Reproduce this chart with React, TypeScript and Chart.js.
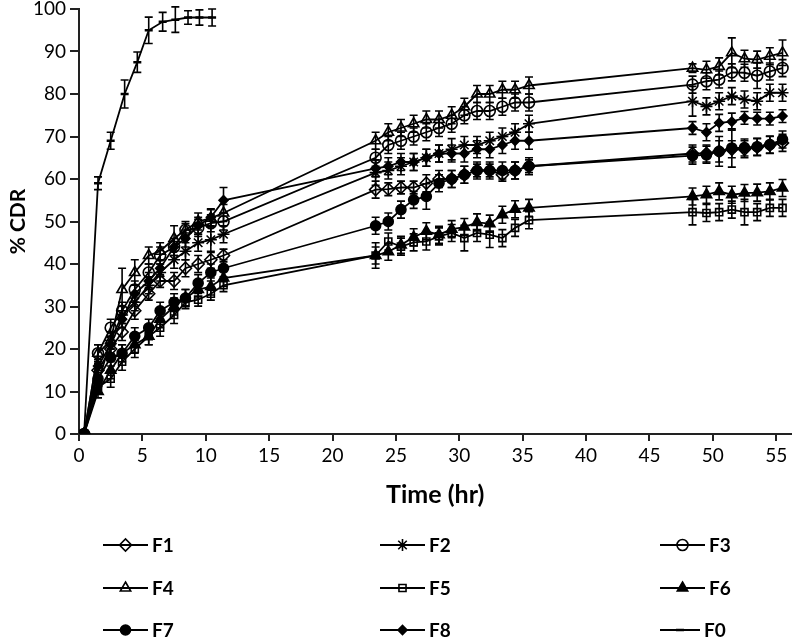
import React, { useEffect, useRef } from 'react';
import { Chart, registerables } from 'chart.js';
import { drawPoint } from 'chart.js/helpers';

Chart.register(...registerables);

const FONT = "Lato, 'Liberation Sans', Arial, sans-serif";

// Sampling times (hr) for F1..F8
const timeHours = [0.4, 1.5, 2.5, 3.4, 4.4, 5.5, 6.4, 7.5, 8.4, 9.4, 10.4, 11.4,
  23.4, 24.4, 25.4, 26.4, 27.4, 28.4, 29.4, 30.4, 31.4, 32.4, 33.4, 34.4, 35.5,
  48.4, 49.5, 50.5, 51.5, 52.5, 53.5, 54.5, 55.5];

const f1Values = [0, 15, 20, 24, 29, 33, 36, 36, 39, 40, 41, 42,
  57.5, 57.6, 58, 58, 59, 60, 60, 61, 62, 62, 61, 62, 63,
  66, 66, 66.5, 67, 67, 67.5, 68, 68.5];
const f1Errors = [0, 1.5, 2, 2, 2, 1.5, 1.5, 2, 2, 2, 2, 1.5,
  2, 1.5, 1.5, 1.5, 2, 2, 2, 2, 1.5, 1.5, 1.5, 2, 1.5,
  2, 2, 2.5, 2, 2, 2, 2, 2];

const f2Values = [0, 12, 22, 28, 31, 35, 38, 41, 43, 45, 45.7, 47,
  61.5, 62, 63, 64, 65, 66, 67, 68, 68, 69, 70, 71, 73,
  78.3, 77.1, 78.3, 79.5, 78.7, 78.3, 80.3, 80.3];
const f2Errors = [0, 1.5, 2, 2, 2, 2, 2, 2, 2, 2, 3, 2,
  3, 2, 2, 2, 2, 2, 2.5, 2, 2, 2, 2, 2, 2,
  3.5, 2, 2, 2, 2, 2, 2, 2];

const f3Values = [0, 19, 25, 29, 34, 38, 42, 44, 48, 48.5, 49.6, 50,
  65, 68, 69, 70, 71, 72, 73, 75, 76, 76, 77, 78, 78,
  82.2, 83, 83.4, 85.1, 85, 84.3, 85.3, 86.1];
const f3Errors = [0, 2, 2, 2, 2, 2, 2, 2, 1.5, 2, 2, 2,
  2, 2, 2, 2, 2, 2, 2, 2, 2, 2, 2, 2, 2,
  2, 2, 2, 2, 2, 3, 2, 2];

const f4Values = [0, 19, 22, 34, 38, 42, 43, 46, 48, 50, 50.8, 52,
  69, 71, 72, 73, 74, 74, 75, 77, 80, 80, 81, 81, 82,
  86.1, 85.7, 86.5, 89.7, 88.3, 88.1, 88.9, 89.7];
const f4Errors = [0, 2, 2, 5, 3, 2, 2, 3, 2, 2, 2, 2,
  2, 2, 2, 2, 2, 2, 2, 2, 2, 2, 2, 2, 2,
  1, 2, 2, 3.5, 2, 2, 2, 3];

const f5Values = [0, 11, 13, 17, 20, 23, 25, 28, 31, 31.6, 33, 35,
  42, 45.3, 44.1, 45.1, 45.3, 46.5, 47.3, 46.1, 47.3, 46.9, 46.1, 48.5, 50.3,
  52.2, 52, 52.2, 52.8, 52.2, 52.2, 53.2, 53.2];
const f5Errors = [0, 1.5, 2, 2, 2, 2, 2, 2, 1.5, 1.5, 1.5, 1.5,
  3, 2, 2, 2, 2, 2, 2, 3, 2, 3, 2, 2, 2,
  3, 2, 2, 2, 3, 2, 2, 2];

const f6Values = [0, 10, 15, 19, 21, 23, 27, 30, 32, 34, 34.7, 36.7,
  42, 42.9, 44.5, 46.3, 47.7, 46.9, 48.2, 48.7, 49.8, 49.5, 51.6, 52.9, 53.2,
  55.9, 56.3, 57.1, 56.3, 56.7, 56.8, 57.1, 57.9];
const f6Errors = [0, 1.5, 2, 2, 2, 2, 2, 2, 2, 2, 2, 2,
  2, 2, 2, 2, 2, 2, 2, 2, 2, 2, 2, 2, 2,
  2, 2, 2, 2, 2, 2, 2, 2];

const f7Values = [0, 13, 18, 19, 23, 25, 29, 31, 32, 35.5, 38, 39,
  49, 50, 52.8, 55.1, 55.9, 59, 60, 61, 62, 62, 62, 62, 63,
  65.5, 65.7, 66.5, 67.3, 67.4, 67.6, 68.1, 69.3];
const f7Errors = [0, 2, 2, 2, 2, 2, 2, 2, 2, 2, 2, 2,
  2, 2, 2, 2, 3, 2, 2, 2, 2, 2, 2, 2, 2,
  2, 2, 3.5, 4.5, 2, 2, 2, 2];

const f8Values = [0, 16, 21, 27, 33, 36, 39, 44, 46, 49, 51, 55,
  62.5, 63, 64, 64, 65, 66, 66, 66, 67, 67, 68, 69, 69,
  72, 71, 73.2, 73.5, 74.4, 74.2, 74.2, 74.8];
const f8Errors = [0, 1.5, 2, 2, 2, 2, 2, 2, 2, 2, 2, 3,
  2, 2, 2, 2, 2, 2, 2, 2, 2, 2, 2, 2, 2,
  1.5, 2, 2, 2, 1.5, 1.5, 1.5, 1.5];

const f0Time = [0.4, 1.5, 2.5, 3.6, 4.6, 5.5, 6.6, 7.6, 8.6, 9.5, 10.5];
const f0Values = [0, 59, 69, 80, 87.5, 95, 97, 97.5, 98, 98, 98];
const f0Errors = [0, 1.5, 2, 3.3, 2.4, 3.1, 2.2, 3, 1.6, 1.8, 2];

const seriesLabels = ['F1', 'F2', 'F3', 'F4', 'F5', 'F6', 'F7', 'F8', 'F0'];

const xTitle = 'Time (hr)';
const yTitle = '% CDR';

export default function App() {
  const ref = useRef<HTMLCanvasElement>(null);

  useEffect(() => {
    const pts = (xs: number[], ys: number[]) => xs.map((x, i) => ({ x, y: ys[i] }));
    const seriesValues = [f1Values, f2Values, f3Values, f4Values, f5Values, f6Values, f7Values, f8Values];
    const seriesErrors = [f1Errors, f2Errors, f3Errors, f4Errors, f5Errors, f6Errors, f7Errors, f8Errors];
    const open = 'rgba(255,255,255,0)';
    const markerStyles: any[] = [
      { pointStyle: 'rectRot', pointRadius: 6, pointBackgroundColor: open },
      { pointStyle: 'star', pointRadius: 6, pointBackgroundColor: open },
      { pointStyle: 'circle', pointRadius: 5.5, pointBackgroundColor: open },
      { pointStyle: 'triangle', pointRadius: 6, pointBackgroundColor: open },
      { pointStyle: 'rect', pointRadius: 5, pointBackgroundColor: open },
      { pointStyle: 'triangle', pointRadius: 6, pointBackgroundColor: '#000' },
      { pointStyle: 'circle', pointRadius: 5, pointBackgroundColor: '#000' },
      { pointStyle: 'rectRot', pointRadius: 4.5, pointBackgroundColor: '#000' },
      { pointStyle: 'line', pointRadius: 4, pointBackgroundColor: '#000' },
    ];

    const datasets: any[] = seriesValues.map((vals, i) => ({
      label: seriesLabels[i],
      data: pts(timeHours, vals),
      errors: seriesErrors[i],
      borderColor: '#000',
      borderWidth: 1.8,
      pointBorderColor: '#000',
      pointBorderWidth: 1.6,
      tension: 0,
      fill: false,
      ...markerStyles[i],
    }));
    datasets.push({
      label: seriesLabels[8],
      data: pts(f0Time, f0Values),
      errors: f0Errors,
      borderColor: '#000',
      borderWidth: 1.8,
      pointBorderColor: '#000',
      pointBorderWidth: 2.5,
      tension: 0,
      fill: false,
      ...markerStyles[8],
    });

    const errorBarPlugin = {
      id: 'errorBars',
      afterDatasetsDraw(chart: any) {
        const ctx = chart.ctx;
        const ys = chart.scales.y;
        ctx.save();
        ctx.strokeStyle = '#000';
        ctx.lineWidth = 1.6;
        chart.data.datasets.forEach((ds: any, i: number) => {
          const meta = chart.getDatasetMeta(i);
          meta.data.forEach((el: any, j: number) => {
            const err = ds.errors[j];
            if (!err) return;
            const v = ds.data[j].y;
            const x = el.x;
            const yt = ys.getPixelForValue(v + err);
            const yb = ys.getPixelForValue(v - err);
            ctx.beginPath();
            ctx.moveTo(x, yt); ctx.lineTo(x, yb);
            ctx.moveTo(x - 4, yt); ctx.lineTo(x + 4, yt);
            ctx.moveTo(x - 4, yb); ctx.lineTo(x + 4, yb);
            ctx.stroke();
          });
        });
        ctx.restore();
      },
    };

    const legendCols = [103, 380, 660];
    const legendRows = [545, 588, 630];
    const legendPlugin = {
      id: 'customLegend',
      afterDraw(chart: any) {
        const ctx = chart.ctx;
        ctx.save();
        chart.data.datasets.forEach((ds: any, i: number) => {
          const x0 = legendCols[i % 3];
          const y = legendRows[Math.floor(i / 3)];
          const len = i === 8 ? 40 : 45;
          ctx.strokeStyle = '#000';
          ctx.lineWidth = 2;
          ctx.beginPath();
          ctx.moveTo(x0, y); ctx.lineTo(x0 + len, y);
          ctx.stroke();
          ctx.fillStyle = ds.pointBackgroundColor;
          ctx.strokeStyle = '#000';
          ctx.lineWidth = ds.pointBorderWidth;
          drawPoint(ctx, { pointStyle: ds.pointStyle, radius: ds.pointRadius, rotation: 0, borderWidth: ds.pointBorderWidth } as any, x0 + len / 2, y);
          ctx.fillStyle = '#000';
          ctx.font = `bold 19px ${FONT}`;
          ctx.textBaseline = 'middle';
          ctx.textAlign = 'left';
          ctx.fillText(ds.label, x0 + len + 4, y + 1);
        });
        ctx.restore();
      },
    };

    const chart = new Chart(ref.current as HTMLCanvasElement, {
      type: 'line',
      data: { datasets },
      options: {
        responsive: false,
        animation: false,
        layout: { padding: { top: 9, right: 1, bottom: 129, left: 0 } },
        plugins: { legend: { display: false }, tooltip: { enabled: false } },
        scales: {
          x: {
            type: 'linear',
            min: 0,
            max: 56.2,
            afterBuildTicks: (axis: any) => { axis.ticks = axis.ticks.filter((t: any) => Number.isInteger(t.value / 5)); },
            afterFit: (s: any) => { s.height = 76; s.paddingLeft = 0; s.paddingRight = 0; },
            ticks: { stepSize: 5, includeBounds: false, color: '#000', font: { family: FONT, size: 19 }, padding: 3, maxRotation: 0, autoSkip: false },
            grid: { display: true, drawOnChartArea: false, drawTicks: true, tickLength: 7, color: '#222', lineWidth: 2 },
            border: { display: true, color: '#222', width: 2 },
            title: { display: true, text: xTitle, color: '#000', font: { family: FONT, size: 25, weight: 'bold' }, padding: { top: 0, bottom: 0 } },
          },
          y: {
            type: 'linear',
            min: 0,
            max: 100,
            afterFit: (s: any) => { s.width = 79; s.paddingTop = 0; s.paddingBottom = 0; },
            ticks: { stepSize: 10, color: '#000', font: { family: FONT, size: 19 }, padding: 4 },
            grid: { display: true, drawOnChartArea: false, drawTicks: true, tickLength: 9, color: '#222', lineWidth: 2 },
            border: { display: true, color: '#222', width: 2 },
            title: { display: true, text: yTitle, color: '#000', font: { family: FONT, size: 21, weight: 'bold' }, padding: { top: 6, bottom: 0 } },
          },
        },
      } as any,
      plugins: [errorBarPlugin, legendPlugin],
    });
    return () => chart.destroy();
  }, []);

  return (
    <div style={{ position: 'absolute', left: 0, top: 0, width: 799, height: 639, background: '#fff' }}>
      <canvas ref={ref} width={799} height={639} style={{ display: 'block' }} />
    </div>
  );
}
